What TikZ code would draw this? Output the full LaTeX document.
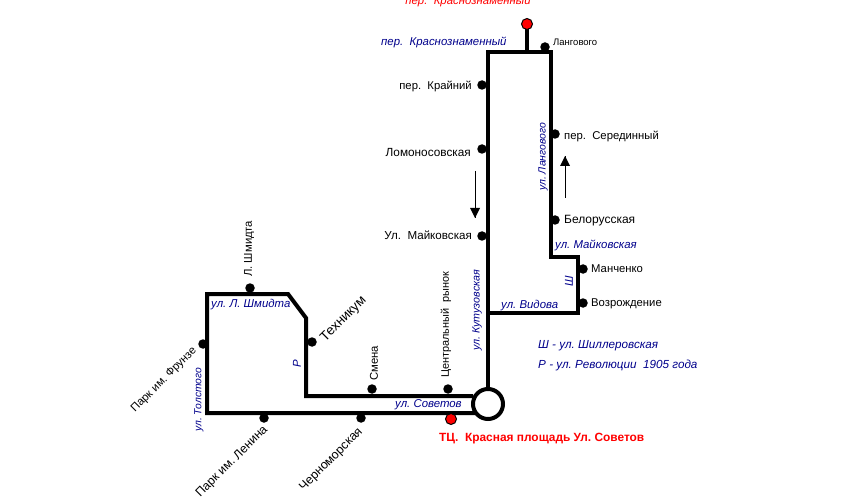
\documentclass[tikz,border=0pt]{standalone}
\usepackage{fontspec}
\setmainfont{Liberation Sans}
\definecolor{street}{RGB}{0,0,139}
\begin{document}
\begin{tikzpicture}[x=1pt,y=-1pt,
  route/.style={line width=4pt,line join=miter,line cap=butt},
  stopdot/.style={circle,fill=black,inner sep=0pt,minimum size=9.5pt},
  reddot/.style={circle,fill=red,draw=black,line width=1pt,inner sep=0pt,minimum width=11pt,minimum height=10pt},
  stoplabel/.style={font=\fontsize{11.3}{13}\selectfont,inner sep=0pt,text=black},
  streetlabel/.style={font=\fontsize{11.4}{13}\selectfont\itshape,inner sep=0pt,text=street}
]
\useasboundingbox (0,0) rectangle (865,497);
% corners
\coordinate (a) at (488,390);
\coordinate (b) at (488,52);
\coordinate (c) at (551,52);
\coordinate (d) at (551,257);
\coordinate (e) at (578,257);
\coordinate (f) at (578,313);
\coordinate (g) at (488,313);
\coordinate (stubtop) at (527,24);
\coordinate (stubfoot) at (527,52);
\coordinate (h) at (473,396);
\coordinate (i) at (306,396);
\coordinate (j) at (306,318);
\coordinate (k) at (288,294);
\coordinate (l) at (207,294);
\coordinate (m) at (207,413);
\coordinate (n) at (475,413);
% route
\draw[route] (a) -- (b) -- (c) -- (d) -- (e) -- (f) -- (g);
\draw[route] (stubfoot) -- (stubtop);
\draw[route] (h) -- (i) -- (j) -- (k) -- (l) -- (m) -- (n);
\node[circle,draw=black,fill=white,line width=4pt,minimum size=30pt,inner sep=0pt] (hub) at (488,404) {};
% stops
\node[stopdot] (s1) at (545,47) {};
\node[stopdot] (s2) at (482,85) {};
\node[stopdot] (s3) at (482,149) {};
\node[stopdot] (s4) at (555,134) {};
\node[stopdot] (s5) at (555,220) {};
\node[stopdot] (s6) at (482,236) {};
\node[stopdot] (s7) at (583,269) {};
\node[stopdot] (s8) at (583,303) {};
\node[stopdot] (s9) at (448,389) {};
\node[stopdot] (s10) at (372,389) {};
\node[stopdot] (s11) at (312,342) {};
\node[stopdot] (s12) at (250,288) {};
\node[stopdot] (s13) at (203,344) {};
\node[stopdot] (s14) at (264,418) {};
\node[stopdot] (s15) at (361,418) {};
\node[reddot] (r1) at (527,24) {};
\node[reddot] (r2) at (451,419) {};
% stop labels
\node[stoplabel,text=red,font=\fontsize{11.4}{13}\selectfont\itshape,anchor=base] (t0) at (468,5) {пер.\ \ Краснознаменный};
\node[stoplabel,font=\fontsize{9.5}{11}\selectfont,anchor=west] (t1) at (553,42) {Лангового};
\node[stoplabel,anchor=east] (t2) at (472,86) {пер.\ \ Крайний};
\node[stoplabel,font=\fontsize{11.8}{13}\selectfont,anchor=east] (t3) at (471,152) {Ломоносовская};
\node[stoplabel,anchor=west] (t4) at (564,136) {пер.\ \ Серединный};
\node[stoplabel,font=\fontsize{12}{13}\selectfont,anchor=west] (t5) at (564,221) {Белорусская};
\node[stoplabel,font=\fontsize{11.6}{13}\selectfont,anchor=east] (t6) at (472,235) {Ул.\ \ Майковская};
\node[stoplabel,anchor=west] (t7) at (591,269) {Манченко};
\node[stoplabel,anchor=west] (t8) at (591,304) {Возрождение};
\node[stoplabel,font=\fontsize{10.9}{13}\selectfont,anchor=west,rotate=90] (t9) at (446,378) {Центральный\ \ рынок};
\node[stoplabel,anchor=west,rotate=90] (t10) at (374,381) {Смена};
\node[stoplabel,font=\fontsize{13.5}{15}\selectfont,anchor=west,rotate=45] (t11) at (323,340) {Техникум};
\node[stoplabel,anchor=west,rotate=90] (t12) at (249,277) {Л.\ Шмидта};
\node[stoplabel,anchor=east,rotate=45] (t13) at (195,349) {Парк им.\ Фрунзе};
\node[stoplabel,font=\fontsize{12.3}{14}\selectfont,anchor=east,rotate=45] (t14) at (266,428) {Парк им.\ Ленина};
\node[stoplabel,font=\fontsize{12.4}{14}\selectfont,anchor=east,rotate=45] (t15) at (361,430) {Черноморская};
\node[stoplabel,text=red,font=\fontsize{11.9}{14}\selectfont\bfseries,anchor=west] (t16) at (439,439) {ТЦ.\ \ Красная площадь Ул.\ Советов};
% street labels
\node[streetlabel,anchor=west] (u1) at (381,42) {пер.\ \ Краснознаменный};
\node[streetlabel,font=\fontsize{10.4}{12}\selectfont\itshape,anchor=west,rotate=90] (u2) at (543,191) {ул.\ Лангового};
\node[streetlabel,anchor=west] (u3) at (555,245) {ул.\ Майковская};
\node[streetlabel,anchor=west,rotate=90] (u4) at (569,287) {Ш};
\node[streetlabel,anchor=west] (u5) at (501,306) {ул.\ Видова};
\node[streetlabel,font=\fontsize{10.7}{12}\selectfont\itshape,anchor=west,rotate=90] (u6) at (477,351) {ул.\ Кутузовская};
\node[streetlabel,anchor=west] (u7) at (395,405) {ул.\ Советов};
\node[streetlabel,anchor=west,rotate=90] (u8) at (297,368) {Р};
\node[streetlabel,anchor=west] (u9) at (211,305) {ул.\ Л.\ Шмидта};
\node[streetlabel,font=\fontsize{10.3}{12}\selectfont\itshape,anchor=west,rotate=90] (u10) at (199,432) {ул.\ Толстого};
\node[streetlabel,font=\fontsize{11.7}{13}\selectfont\itshape,anchor=west] (u11) at (538,346) {Ш - ул.\ Шиллеровская};
\node[streetlabel,font=\fontsize{11.7}{13}\selectfont\itshape,anchor=west] (u12) at (538,365) {Р - ул.\ Революции\ \ 1905 года};
% direction arrows
\coordinate (d1a) at (475,171);
\coordinate (d1b) at (475,218);
\coordinate (d2a) at (565,198);
\coordinate (d2b) at (565,156);
\draw[line width=1pt] (d1a) -- (d1b);
\fill (470,208) -- (480,208) -- (475,218) -- cycle;
\draw[line width=1pt] (d2a) -- (d2b);
\fill (560,166) -- (570,166) -- (565,156) -- cycle;
\end{tikzpicture}
\end{document}
